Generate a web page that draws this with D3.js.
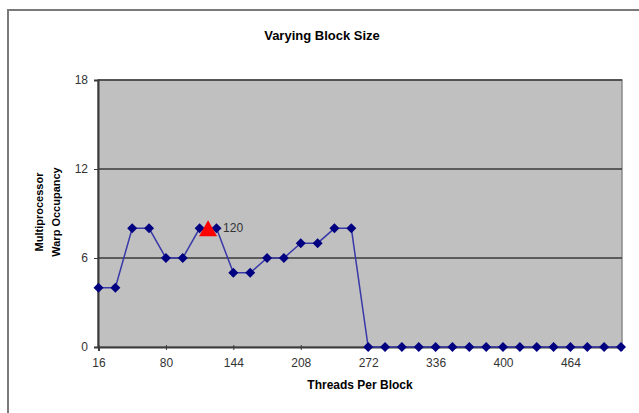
<!DOCTYPE html>
<html lang="en">
<head>
    <script src='https://d3js.org/d3.v7.min.js'></script>
    <style>
        body { margin: 0; background: #fff; }
        text { font-family: Arial, "Liberation Sans", sans-serif; }
    </style>
</head>
<body>
<script>
    // block sizes (threads per block) and warp occupancy
    var threads = [16, 32, 48, 64, 80, 96, 112, 128, 144, 160, 176, 192, 208, 224, 240, 256,
                   272, 288, 304, 320, 336, 352, 368, 384, 400, 416, 432, 448, 464, 480, 496, 512];
    var occupancy = [4, 4, 8, 8, 6, 6, 8, 8, 5, 5, 6, 6, 7, 7, 8, 8,
                     0, 0, 0, 0, 0, 0, 0, 0, 0, 0, 0, 0, 0, 0, 0, 0];
    var xTicks = [16, 80, 144, 208, 272, 336, 400, 464];
    var yTicks = [0, 6, 12, 18];
    var chosenX = [120];
    var chosenY = [8];

    var width = 639, height = 413;
    var plotL = 98, plotR = 622, plotT = 80, plotB = 347;

    var svg = d3.select("body").append("svg")
        .attr("width", width)
        .attr("height", height);

    // outer chart frame (runs off the page right and bottom)
    svg.append("rect")
        .attr("x", 8).attr("y", 10)
        .attr("width", 660).attr("height", 440)
        .attr("fill", "#fff")
        .attr("stroke", "#7a7a7a")
        .attr("stroke-width", 2);

    var x = d3.scaleLinear().domain([16, 512]).range([plotL + 0.5, plotR - 1]);
    var y = d3.scaleLinear().domain([0, 18]).range([plotB, plotT]);

    svg.append("rect")
        .attr("x", plotL).attr("y", plotT)
        .attr("width", plotR - plotL).attr("height", plotB - plotT)
        .attr("fill", "#c0c0c0")
        .attr("stroke", "#8a8a8a")
        .attr("stroke-width", 1.5);

    // gridlines
    svg.selectAll(".grid")
        .data(yTicks.filter(function(d) { return d > 0; }))
        .enter().append("line")
        .attr("x1", plotL).attr("x2", plotR)
        .attr("y1", function(d) { return y(d); })
        .attr("y2", function(d) { return y(d); })
        .attr("stroke", "#3a3a3a")
        .attr("stroke-width", 1.5);

    // axes
    var yAxis = svg.append("g")
        .attr("transform", "translate(" + plotL + ",0)")
        .call(d3.axisLeft(y).tickValues(yTicks).tickSize(4).tickPadding(6));
    var xAxis = svg.append("g")
        .attr("transform", "translate(0," + plotB + ")")
        .call(d3.axisBottom(x).tickValues(xTicks).tickSize(4).tickPadding(7));

    [xAxis, yAxis].forEach(function(g) {
        g.select(".domain").attr("stroke", "#3a3a3a").attr("stroke-width", 2);
        g.selectAll(".tick line").attr("stroke", "#3a3a3a");
        g.selectAll(".tick text")
            .attr("fill", "#333")
            .style("font-size", "12px");
    });
    xAxis.selectAll(".tick line").attr("y1", -2).attr("y2", 3);

    // series line + diamond markers
    var pts = threads.map(function(t, i) { return [t, occupancy[i]]; });
    svg.append("path")
        .datum(pts)
        .attr("fill", "none")
        .attr("stroke", "#3838a8")
        .attr("stroke-width", 1.5)
        .attr("d", d3.line()
            .x(function(d) { return x(d[0]); })
            .y(function(d) { return y(d[1]); }));

    svg.selectAll(".pt")
        .data(pts)
        .enter().append("path")
        .attr("transform", function(d) { return "translate(" + x(d[0]) + "," + y(d[1]) + ")"; })
        .attr("d", "M0,-5L5,0L0,5L-5,0Z")
        .attr("fill", "#000080");

    // current block size marker
    chosenX.forEach(function(cx, i) {
        svg.append("path")
            .attr("transform", "translate(" + x(cx) + "," + (y(chosenY[i]) + 1) + ")")
            .attr("d", "M0,-9L9,7L-9,7Z")
            .attr("fill", "#ff0000");
        svg.append("text")
            .attr("x", x(cx) + 15)
            .attr("y", y(chosenY[i]) + 4)
            .attr("fill", "#333")
            .style("font-size", "12px")
            .text(cx);
    });

    // titles
    svg.append("text")
        .attr("x", 322).attr("y", 40)
        .attr("text-anchor", "middle")
        .style("font-size", "13px").style("font-weight", "bold")
        .text("Varying Block Size");

    svg.append("text")
        .attr("x", 360).attr("y", 389)
        .attr("text-anchor", "middle")
        .style("font-size", "12px").style("font-weight", "bold")
        .text("Threads Per Block");

    var yt = svg.append("text")
        .attr("transform", "translate(43,212) rotate(-90)")
        .attr("text-anchor", "middle")
        .style("font-size", "11px").style("font-weight", "bold");
    yt.append("tspan").attr("x", 0).attr("dy", 0).text("Multiprocessor");
    yt.append("tspan").attr("x", 0).attr("dy", 17).text("Warp Occupancy");
</script>
</body>
</html>
